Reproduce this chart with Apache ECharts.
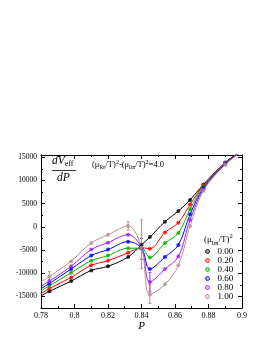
<!DOCTYPE html>
<html><head><meta charset="utf-8">
<script src="https://cdn.jsdelivr.net/npm/echarts@6/dist/echarts.min.js"></script>
<style>html,body{margin:0;padding:0;background:#fff}#c{width:270px;height:349px}</style>
</head><body><div id="c"></div>
<script>
// ---- data ----
const P = [0.785, 0.798, 0.81, 0.82, 0.832, 0.84, 0.845, 0.854, 0.862, 0.869, 0.877, 0.89];
const mu00 = [-13900, -11700, -9400, -8500, -6500, -3900, -2200, 1100, 3400, 5800, 9150, 13900];
const mu20 = [-13300, -10900, -8300, -7300, -5600, -4500, -4700, -1200, 900, 4800, 8950, 13800];
const mu40 = [-12700, -9900, -7300, -6200, -4600, -4600, -6600, -3500, -1350, 3800, 8700, 13700];
const mu60 = [-12200, -9100, -6200, -4900, -3200, -4600, -9100, -6500, -3900, 2700, 8400, 13600];
const mu80 = [-11700, -8500, -4900, -3400, -1700, -4500, -11900, -9100, -6400, 1500, 8100, 13500];
const mu100 = [-10700, -7400, -3500, -1700, 200, -4500, -14600, -12400, -8300, 200, 7800, 13400];
// curve end values at P = 0.78 and P = 0.90
const Pends = [0.78, 0.9];
const ends00 = [-14900, 16500];
const ends20 = [-14400, 16450];
const ends40 = [-13800, 16400];
const ends60 = [-13300, 16350];
const ends80 = [-12800, 16300];
const ends100 = [-11900, 16250];
// error bars: [P, low, high]
const err80 = [[0.84, -7000, -2500], [0.845, -14000, -9800]];
const err100 = [[0.785, -11700, -9600], [0.832, -700, 1100], [0.84, -9000, 1500], [0.845, -16500, -12500]];
const legendNames = ['0.00', '0.20', '0.40', '0.60', '0.80', '1.00'];
const xTicks = [0.78, 0.8, 0.82, 0.84, 0.86, 0.88, 0.9];
const yMajor = [-15000, -10000, -5000, 0, 5000, 10000, 15000];

const colors = ['#000000', '#ff0000', '#00b000', '#0000ff', '#a020f0', '#bc8f8f'];
const lightColors = ['#888888', '#ff9a9a', '#8ad88a', '#9a9aff', '#d8a4f8', '#e4cccc'];
const F = 'Liberation Serif';
const allVals = [mu00, mu20, mu40, mu60, mu80, mu100];
const allEnds = [ends00, ends20, ends40, ends60, ends80, ends100];

const series = [];
allVals.forEach((vals, k) => {
  const curve = [[Pends[0], allEnds[k][0]]].concat(P.map((p, i) => [p, vals[i]])).concat([[Pends[1], allEnds[k][1]]]);
  series.push({type: 'line', data: curve, smooth: 0.35, showSymbol: false, symbol: 'none',
    lineStyle: {color: colors[k], width: 1}, xAxisIndex: 0, yAxisIndex: 0, z: 2 + k, silent: true});
});
function errSeries(data, color) {
  return {type: 'custom', data: data, xAxisIndex: 0, yAxisIndex: 0, z: 1, silent: true,
    renderItem: function (params, api) {
      const a = api.coord([api.value(0), api.value(1)]);
      const b = api.coord([api.value(0), api.value(2)]);
      return {type: 'group', children: [
        {type: 'line', shape: {x1: a[0], y1: a[1], x2: b[0], y2: b[1]}, style: {stroke: color, lineWidth: 1}},
        {type: 'line', shape: {x1: a[0] - 1.5, y1: a[1], x2: a[0] + 1.5, y2: a[1]}, style: {stroke: color, lineWidth: 1}},
        {type: 'line', shape: {x1: b[0] - 1.5, y1: b[1], x2: b[0] + 1.5, y2: b[1]}, style: {stroke: color, lineWidth: 1}}
      ]};
    }};
}
series.push(errSeries(err80, colors[4]));
series.push(errSeries(err100, colors[5]));
allVals.forEach((vals, k) => {
  series.push({type: 'scatter', name: legendNames[k], data: P.map((p, i) => [p, vals[i]]),
    symbol: 'circle', symbolSize: 4, itemStyle: {color: colors[k]}, xAxisIndex: 0, yAxisIndex: 0, z: 10 + k, silent: true});
});

const xCommon = {type: 'value', min: 0.78, max: 0.9, interval: 0.02,
  axisLine: {onZero: false, lineStyle: {color: '#000', width: 1}},
  axisTick: {inside: true, length: 4, lineStyle: {color: '#000', width: 1}},
  minorTick: {show: true, splitNumber: 2, length: 2, lineStyle: {color: '#000', width: 1}},
  splitLine: {show: false}, minorSplitLine: {show: false}};
const yCommon = {type: 'value', min: -17500, max: 15500, interval: 2500,
  axisLine: {onZero: false, lineStyle: {color: '#000', width: 1}},
  axisTick: {inside: true, length: 2, lineStyle: {color: '#000', width: 1}},
  splitLine: {show: false}};

const option = {
  animation: false,
  backgroundColor: '#fff',
  grid: {left: 41, right: 28, top: 155, bottom: 41, containLabel: false},
  xAxis: [
    Object.assign({}, xCommon, {position: 'bottom',
      axisLabel: {fontFamily: F, fontSize: 8, color: '#000', margin: 4,
        customValues: xTicks, formatter: v => String(+(+v).toFixed(2))},
      name: 'P', nameLocation: 'middle', nameGap: 13,
      nameTextStyle: {fontFamily: F, fontStyle: 'italic', fontSize: 11, color: '#000'}}),
    Object.assign({}, xCommon, {position: 'top', axisLabel: {show: false}})
  ],
  yAxis: [
    Object.assign({}, yCommon, {position: 'left',
      axisLabel: {fontFamily: F, fontSize: 7.5, color: '#000', margin: 4, customValues: yMajor, formatter: v => String(v)}}),
    Object.assign({}, yCommon, {position: 'right', axisLabel: {show: false}}),
    Object.assign({}, yCommon, {position: 'left', axisLine: {show: false}, axisLabel: {show: false},
      axisTick: {inside: true, length: 4, customValues: yMajor, lineStyle: {color: '#000', width: 1}}}),
    Object.assign({}, yCommon, {position: 'right', axisLine: {show: false}, axisLabel: {show: false},
      axisTick: {inside: true, length: 4, customValues: yMajor, lineStyle: {color: '#000', width: 1}}})
  ],
  legend: {orient: 'vertical', left: 205, top: 247, itemWidth: 4, itemHeight: 4, itemGap: 0,
    icon: 'circle', padding: 0, selectedMode: false,
    data: legendNames.map((n, k) => ({name: n, itemStyle: {color: lightColors[k], borderColor: colors[k], borderWidth: 1}})),
    textStyle: {fontFamily: F, fontSize: 9, lineHeight: 8.2, color: '#000', padding: [0, 0, 0, 3]}},
  graphic: [
    {type: 'text', left: 52, top: 155, style: {text: '{i|dV}{s|eff}', fill: '#000',
      rich: {i: {fontFamily: F, fontStyle: 'italic', fontSize: 11.5, lineHeight: 13, verticalAlign: 'top'},
             s: {fontFamily: F, fontSize: 8, lineHeight: 13, verticalAlign: 'bottom'}}}},
    {type: 'line', shape: {x1: 52, y1: 170.5, x2: 76, y2: 170.5}, style: {stroke: '#000', lineWidth: 0.8}},
    {type: 'text', left: 57, top: 172, style: {text: 'dP', fill: '#000', fontFamily: F, fontStyle: 'italic', fontSize: 11.5}},
    {type: 'text', left: 92, top: 159, style: {
      text: '(μ{sb|Re}/T){sp|2}-(μ{sb|Im}/T){sp|2}=4.0', fill: '#000', fontFamily: F, fontSize: 8.5, lineHeight: 12,
      rich: {sb: {fontFamily: F, fontSize: 5.5, lineHeight: 12, verticalAlign: 'bottom'},
             sp: {fontFamily: F, fontSize: 6, lineHeight: 12, verticalAlign: 'top'}}}},
    {type: 'text', left: 204, top: 233, style: {
      text: '(μ{sb|Im}/T){sp|2}', fill: '#000', fontFamily: F, fontSize: 9, lineHeight: 13,
      rich: {sb: {fontFamily: F, fontSize: 6, lineHeight: 13, verticalAlign: 'bottom'},
             sp: {fontFamily: F, fontSize: 6.5, lineHeight: 13, verticalAlign: 'top'}}}}
  ],
  series: series
};
const chart = echarts.init(document.getElementById('c'), null, {renderer: 'canvas'});
chart.setOption(option);
</script></body></html>
